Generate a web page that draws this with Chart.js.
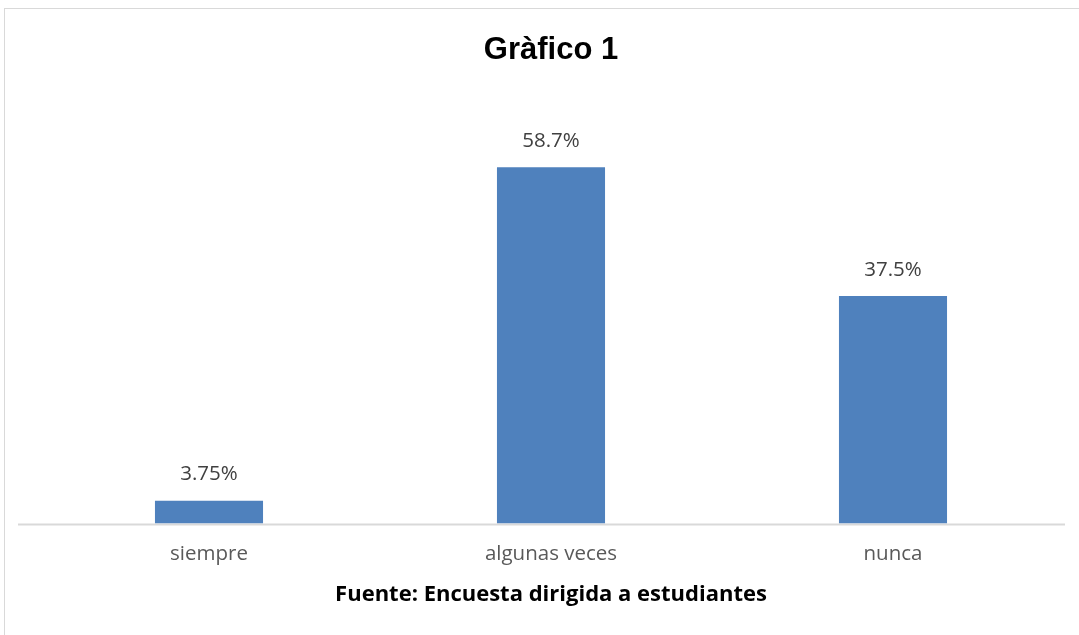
<!DOCTYPE html>
<html>
<head>
<meta charset="utf-8">
<script src="https://cdn.jsdelivr.net/npm/chart.js@4.4.1/dist/chart.umd.min.js"></script>
<style>
  html, body { margin: 0; padding: 0; background: #fff; }
  #wrap { position: relative; width: 1079px; height: 635px; }
  #frame { position: absolute; left: 4px; top: 8px; width: 1080px; height: 640px; border: 1px solid #d9d9d9; box-sizing: border-box; }
  canvas { position: absolute; left: 0; top: 0; }
</style>
</head>
<body>
<div id="wrap">
  <div id="frame"></div>
  <canvas id="grafico" width="1079" height="635"></canvas>
</div>
<script>
// Datos del gráfico
const categorias = ['siempre', 'algunas veces', 'nunca'];
const porcentajes = [3.75, 58.7, 37.5];
const etiquetas = ['3.75%', '58.7%', '37.5%'];

const fuente = '"Open Sans", Lato, sans-serif';

// Etiquetas encima de cada barra
const etiquetasBarras = {
  id: 'etiquetasBarras',
  afterDatasetsDraw(chart) {
    const ctx = chart.ctx;
    const meta = chart.getDatasetMeta(0);
    ctx.save();
    ctx.font = '20.5px ' + fuente;
    ctx.fillStyle = '#404040';
    ctx.textAlign = 'center';
    ctx.textBaseline = 'middle';
    meta.data.forEach((bar, i) => {
      ctx.fillText(etiquetas[i], bar.x, bar.y - 26);
    });
    ctx.restore();
  }
};

// Línea del eje x un poco más larga que el área del gráfico
const lineaEje = {
  id: 'lineaEje',
  beforeDatasetsDraw(chart) {
    const { ctx, chartArea } = chart;
    ctx.save();
    ctx.strokeStyle = '#d9d9d9';
    ctx.lineWidth = 2;
    ctx.beginPath();
    ctx.moveTo(chartArea.left - 20, chartArea.bottom + 1);
    ctx.lineTo(chartArea.right + 1, chartArea.bottom + 1);
    ctx.stroke();
    ctx.restore();
  }
};

const ctx = document.getElementById('grafico').getContext('2d');
new Chart(ctx, {
  type: 'bar',
  data: {
    labels: categorias,
    datasets: [{
      data: porcentajes,
      backgroundColor: '#4f81bd',
      borderWidth: 0,
      categoryPercentage: 1,
      barPercentage: 0.316
    }]
  },
  options: {
    responsive: false,
    animation: false,
    layout: { padding: { top: 32, left: 38, right: 15, bottom: 29 } },
    plugins: {
      legend: { display: false },
      tooltip: { enabled: false },
      title: {
        display: true,
        text: 'Gràfico 1',
        color: '#000',
        font: { family: '"Liberation Sans", Arial, sans-serif', size: 31, weight: 'bold' },
        padding: { top: 0, bottom: 29.5 }
      }
    },
    scales: {
      x: {
        grid: { display: false, drawTicks: false },
        border: { display: false },
        ticks: { color: '#595959', font: { family: fuente, size: 20.5 }, padding: 18 },
        title: {
          display: true,
          text: 'Fuente: Encuesta dirigida a estudiantes',
          color: '#000',
          font: { family: fuente, size: 22, weight: 'bold', lineHeight: 1 },
          padding: { top: 0, bottom: 0 }
        }
      },
      y: {
        display: false,
        min: 0,
        max: 70
      }
    }
  },
  plugins: [lineaEje, etiquetasBarras]
});
</script>
</body>
</html>
